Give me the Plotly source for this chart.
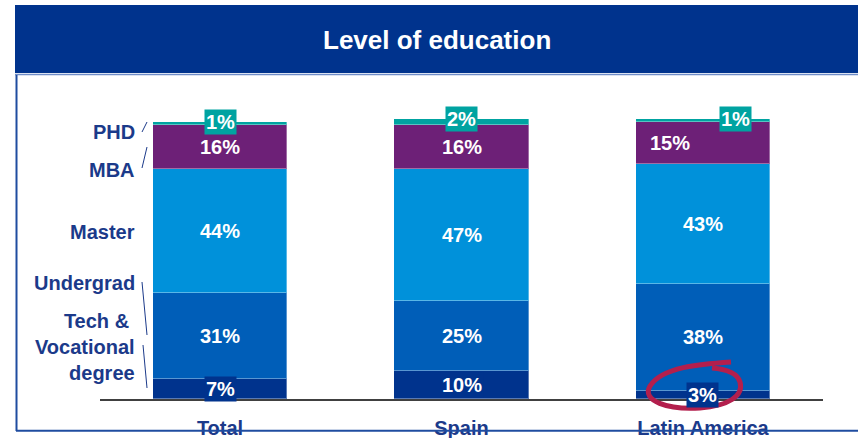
import plotly.graph_objects as go

W, H = 858, 438

# ---- data -------------------------------------------------------------
categories = ["Total", "Spain", "Latin America"]
levels = ["Tech & Vocational degree", "Undergrad", "Master", "MBA", "PHD"]
tech_voc = [7, 10, 3]
undergrad = [31, 25, 38]
master = [44, 47, 43]
mba = [16, 16, 15]
phd = [1, 2, 1]

series = [tech_voc, undergrad, master, mba, phd]
colors = ["#00338D", "#005EB8", "#0091DA", "#6D2077", "#00A3A1"]

NAVY_TEXT = "#1B3A8A"
FONT = "Arial, Liberation Sans, sans-serif"


def px(x):
    return x / W


def py(y):
    return 1 - y / H


fig = go.Figure()

for name, vals, col in zip(levels, series, colors):
    fig.add_trace(go.Bar(
        x=categories, y=vals, name=name, width=0.555,
        marker=dict(color=col, line=dict(color="rgba(255,255,255,0.35)", width=1)),
        hoverinfo="skip", showlegend=False,
    ))

annotations = []

# value labels inside / on the stacked segments
for i, cat in enumerate(categories):
    base = 0
    for j, vals in enumerate(series):
        v = vals[i]
        y = base + v / 2
        ann = dict(x=cat, y=y, xref="x", yref="y", text=f"{v}%", showarrow=False,
                   font=dict(family=FONT, size=20, color="white", weight="bold"),
                   xanchor="center", yanchor="middle")
        if j == 4:  # PHD label sits on top of the bar in a teal box
            ann.update(y=base + v, bgcolor=colors[4], borderpad=1)
            if cat == "Latin America":
                ann["xshift"] = 33
        if j == 0:  # thin bottom segment: label boxed in navy
            ann.update(bgcolor=colors[0], borderpad=1)
        if j == 3 and cat == "Latin America":
            ann["xshift"] = -33
        annotations.append(ann)
        base += v

# level names on the left
side_labels = [
    ("PHD", 132),
    ("MBA", 170),
    ("Master", 232),
    ("Undergrad", 283),
    ("Tech &\u00a0<br>Vocational<br>degree", 347),
]
for txt, ypix in side_labels:
    annotations.append(dict(
        x=px(137), y=py(ypix), xref="paper", yref="paper", text=txt,
        showarrow=False, xanchor="right", yanchor="middle", align="right",
        font=dict(family=FONT, size=20, color=NAVY_TEXT, weight="bold"),
    ))

# header title
annotations.append(dict(
    x=px(437), y=py(40), xref="paper", yref="paper", text="Level of education",
    showarrow=False, xanchor="center", yanchor="middle",
    font=dict(family=FONT, size=26, color="white", weight="bold"),
))

shapes = []

# header band
shapes.append(dict(type="rect", xref="paper", yref="paper",
                   x0=px(15), x1=px(858), y0=py(73), y1=py(5),
                   fillcolor="#00338D", line=dict(width=0), layer="below"))
shapes.append(dict(type="line", xref="paper", yref="paper",
                   x0=px(15), x1=px(858), y0=py(74.5), y1=py(74.5),
                   line=dict(color="#6F8DC8", width=1.5)))
# content frame (left and bottom edges)
shapes.append(dict(type="line", xref="paper", yref="paper",
                   x0=px(16.5), x1=px(16.5), y0=py(75), y1=py(431),
                   line=dict(color="#1F4CA0", width=2), layer="above"))
shapes.append(dict(type="line", xref="paper", yref="paper",
                   x0=px(16), x1=px(858), y0=py(430.8), y1=py(430.8),
                   line=dict(color="#1F4CA0", width=2), layer="above"))

# connector strokes next to the level names
connectors = [((142, 132), (147, 122)), ((142, 168), (147, 147)),
              ((142, 282), (147, 335)), ((143, 345), (147, 388))]
for (xa, ya), (xb, yb) in connectors:
    shapes.append(dict(type="line", xref="paper", yref="paper",
                       x0=px(xa), y0=py(ya), x1=px(xb), y1=py(yb),
                       line=dict(color=NAVY_TEXT, width=1)))

# hand-drawn highlight loop around the Latin America bottom label
loop_pts = [(731, 362), (700, 364), (662, 367), (650, 386),
            (641, 401), (668, 410), (700, 408),
            (728, 406), (744, 396), (740, 382),
            (737, 372), (725, 369), (712, 368)]


def P(p):
    return f"{px(p[0]):.5f},{py(p[1]):.5f}"


path = "M " + P(loop_pts[0])
for k in range(1, len(loop_pts), 3):
    path += " C " + " ".join(P(q) for q in loop_pts[k:k + 3])
shapes.append(dict(type="path", xref="paper", yref="paper", path=path,
                   line=dict(color="#B31F4D", width=5), layer="above"))

fig.update_layout(
    width=W, height=H, margin=dict(l=0, r=0, t=0, b=0, autoexpand=False),
    paper_bgcolor="white", plot_bgcolor="rgba(0,0,0,0)",
    barmode="stack", bargap=0,
    annotations=annotations, shapes=shapes,
    xaxis=dict(domain=[px(100), px(823)], range=[-0.497, 2.497],
               automargin=False,
               showline=True, linecolor="#404040", linewidth=2,
               showgrid=False, zeroline=False, ticks="",
               ticklabelstandoff=10,
               tickfont=dict(family=FONT, size=20, color=NAVY_TEXT, weight="bold")),
    yaxis=dict(domain=[(H - 399) / H, (H - 119) / H], range=[0, 100],
               automargin=False,
               visible=False, showgrid=False, zeroline=False),
)

fig.write_html("out.html")
